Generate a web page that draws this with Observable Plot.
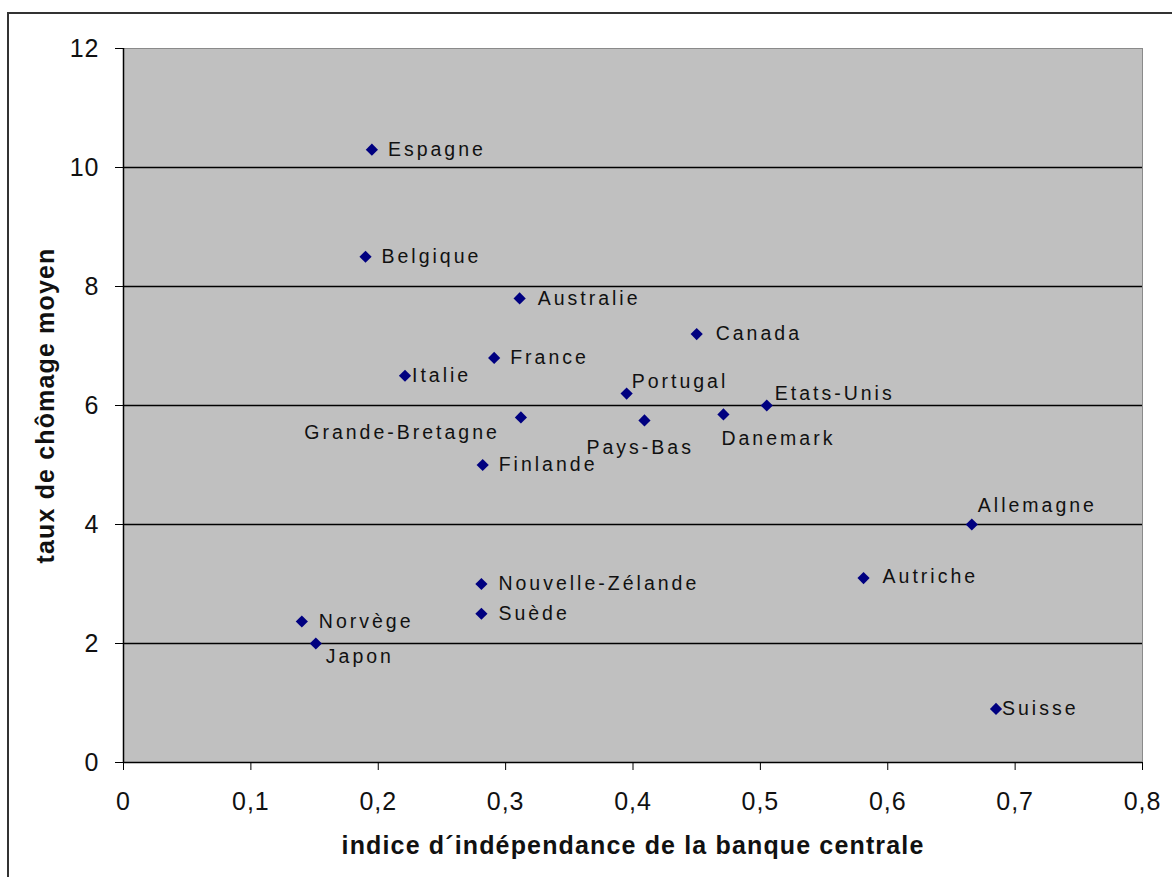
<!DOCTYPE html>
<html>
<head>
<meta charset="utf-8">
<script src="https://cdn.jsdelivr.net/npm/d3@7"></script>
<script src="https://cdn.jsdelivr.net/npm/@observablehq/plot@0.6"></script>
<style>
  html, body { margin: 0; padding: 0; background: #fff; overflow: hidden; width: 1172px; height: 877px; }
  #outer { position: absolute; left: 7px; top: 12px; width: 1200px; height: 900px; border: 2px solid #333; box-sizing: border-box; }
  #chart { position: absolute; left: 0; top: 0; }
  #chart g[aria-label="y-axis tick label"] text, #chart g[aria-label="x-axis tick label"] text { letter-spacing: 1px; }
</style>
</head>
<body>
<div id="outer"></div>
<div id="chart"></div>
<script>
// ---- data ----
const countries = ["Espagne","Belgique","Australie","Canada","France","Italie","Portugal","Grande-Bretagne","Pays-Bas","Danemark","Etats-Unis","Finlande","Allemagne","Autriche","Suisse","Nouvelle-Zélande","Suède","Norvège","Japon"];
const indep =     [0.195, 0.190, 0.311, 0.450, 0.291, 0.221, 0.395, 0.312, 0.409, 0.471, 0.505, 0.282, 0.666, 0.581, 0.685, 0.281, 0.281, 0.140, 0.151];
const chomage =   [10.3,  8.5,   7.8,   7.2,   6.8,   6.5,   6.2,   5.8,   5.75,  5.85,  6.0,   5.0,   4.0,   3.1,   0.9,   3.0,   2.5,   2.37,  2.0];
const xTicks = [0, 0.1, 0.2, 0.3, 0.4, 0.5, 0.6, 0.7, 0.8];
const yTicks = [0, 2, 4, 6, 8, 10, 12];
const xTitle = "indice d´indépendance de la banque centrale";
const yTitle = "taux de chômage moyen";

// ---- label placement (layout, not data) ----
const placement = {
  "Espagne": [16, 0, "start"], "Belgique": [16, 0, "start"], "Australie": [18, 0, "start"],
  "Canada": [19, 0, "start"], "France": [16, 0, "start"], "Italie": [7, 0, "start"],
  "Portugal": [5, -12, "start"], "Grande-Bretagne": [-21, 15, "end"], "Pays-Bas": [-58, 27, "start"],
  "Danemark": [-2, 24, "start"], "Etats-Unis": [8, -12, "start"], "Finlande": [16, 0, "start"],
  "Allemagne": [6, -19, "start"], "Autriche": [19, -1, "start"], "Suisse": [6, 0, "start"],
  "Nouvelle-Zélande": [17, 0, "start"], "Suède": [17, 0, "start"], "Norvège": [17, 0, "start"],
  "Japon": [10, 13, "start"]
};

const rows = countries.map((c, i) => ({country: c, x: indep[i], y: chomage[i]}));
const fmt = d => String(d).replace(".", ",");

const labelMarks = rows.map(r => {
  const [dx, dy, anchor] = placement[r.country];
  return Plot.text([r], {x: "x", y: "y", text: "country", dx, dy, textAnchor: anchor,
    fontSize: 19.5, fill: "#111", lineAnchor: "middle"});
});

const chart = Plot.plot({
  width: 1172, height: 877,
  marginLeft: 123, marginRight: 30, marginTop: 48, marginBottom: 115,
  style: {fontFamily: "'Liberation Sans', Arial, sans-serif", background: "transparent", color: "#000"},
  x: {domain: [0, 0.8], label: null},
  y: {domain: [0, 12], label: null},
  marks: [
    Plot.frame({fill: "#c0c0c0", stroke: "#8a8a8a"}),
    Plot.gridY(yTicks.filter(d => d > 0 && d < 12), {stroke: "#000", strokeOpacity: 1, strokeWidth: 1.3}),
    Plot.ruleX([0], {stroke: "#000", strokeWidth: 1.5}),
    Plot.ruleY([0], {stroke: "#000", strokeWidth: 1.5}),
    Plot.axisY(yTicks, {tickSize: 8, tickPadding: 16, tickFormat: fmt, fontSize: 25, stroke: "#000", fill: "#111", label: null}),
    Plot.axisX(xTicks, {tickSize: 8, tickPadding: 22, tickFormat: fmt, fontSize: 25, stroke: "#000", fill: "#111", label: null}),
    Plot.dot(rows, {x: "x", y: "y", symbol: "diamond2", r: 5.5, fill: "#000080", stroke: null}),
    ...labelMarks,
    Plot.text([yTitle], {frameAnchor: "left", dx: -78, rotate: -90, textAnchor: "middle", lineAnchor: "middle",
      fontSize: 25, fontWeight: "bold", fill: "#111"}),
    Plot.text([xTitle], {frameAnchor: "bottom", dy: 83, textAnchor: "middle", lineAnchor: "middle",
      fontSize: 25, fontWeight: "bold", fill: "#111"})
  ]
});
const svg = d3.select(chart);
svg.selectAll("text").filter(function() { return countries.includes(this.textContent); })
  .style("letter-spacing", "3px");
svg.selectAll("text").filter(function() { return this.textContent === xTitle || this.textContent === yTitle; })
  .style("letter-spacing", "1.15px");
document.getElementById("chart").appendChild(chart);
</script>
</body>
</html>
